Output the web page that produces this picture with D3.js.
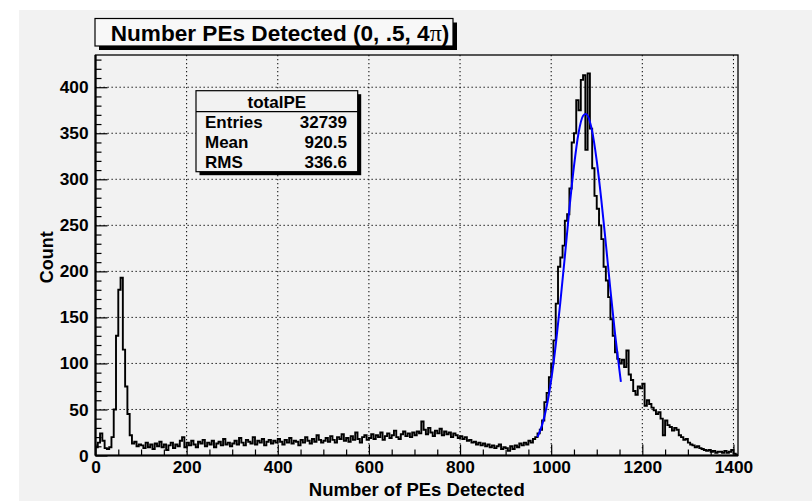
<!DOCTYPE html>
<html><head><meta charset="utf-8">
<script src="https://cdn.jsdelivr.net/npm/d3@7"></script>
<style>body{margin:0;background:#fff;} svg{display:block;}</style>
</head><body>
<svg id="c" width="812" height="501"></svg>
<script>
// ---------- data ----------
const titleText = "Number PEs Detected (0, .5, 4";
const titleSymbol = "π";
const xTitle = "Number of PEs Detected";
const yTitle = "Count";
const binStart = 0, binWidth = 5;
const counts = [
  9, 14, 24, 16, 8, 7, 9, 20, 50, 130, 180, 193, 115, 75, 45, 22, 13, 15, 10, 12,
  11, 8, 14, 9, 12, 7, 13, 10, 15, 9, 12, 6, 11, 14, 8, 12, 10, 16, 20, 9,
  14, 11, 16, 12, 9, 15, 13, 17, 10, 14, 12, 16, 9, 13, 15, 11, 18, 12, 14, 10,
  13, 16, 12, 19, 14, 11, 17, 15, 13, 20, 12, 16, 14, 18, 11, 15, 17, 13, 16, 14,
  18, 15, 12, 17, 14, 19, 13, 16, 15, 11, 17, 14, 20, 16, 13, 18, 15, 22, 17, 14,
  16, 19, 15, 21, 17, 14, 20, 18, 23, 16, 19, 15, 21, 17, 25, 18, 14, 20, 22, 17,
  19, 23, 18, 22, 20, 25, 17, 21, 24, 19, 22, 27, 20, 18, 23, 26, 21, 24, 20, 25,
  22, 26, 24, 37, 28, 23, 30, 25, 21, 27, 24, 29, 22, 26, 23, 25, 20, 24, 22, 19,
  21, 18, 20, 16, 17, 14, 15, 12, 14, 11, 13, 10, 12, 9, 11, 8, 10, 12, 7, 9,
  8, 5, 10, 7, 11, 9, 13, 11, 14, 12, 16, 14, 18, 20, 24, 28, 38, 58, 68, 85,
  100, 125, 165, 205, 215, 228, 255, 262, 290, 340, 350, 386, 375, 408, 413, 332, 415, 355, 312, 282,
  268, 250, 235, 205, 190, 172, 148, 130, 112, 105, 100, 104, 96, 114, 88, 82, 70, 66, 75, 73,
  78, 54, 60, 56, 52, 49, 45, 47, 40, 22, 38, 33, 31, 27, 30, 28, 22, 20, 17, 18,
  14, 12, 11, 9, 10, 8, 7, 6, 5, 6, 4, 5, 3, 4, 4, 3, 5, 3, 4, 6,
  2, 1
];
const fitX = [970, 980, 990, 1000, 1010, 1020, 1030, 1040, 1050, 1060, 1070, 1076, 1080, 1090, 1100, 1110, 1120, 1130, 1140, 1150, 1153];
const fitY = [20, 33, 53, 82, 120, 166, 216, 268, 314, 350, 369, 371, 369, 352, 320, 278, 230, 180, 133, 92, 80];
const xTickValues = [0, 200, 400, 600, 800, 1000, 1200, 1400];
const yTickValues = [0, 50, 100, 150, 200, 250, 300, 350, 400];
const statTitle = "totalPE";
const statNames = ["Entries", "Mean", "RMS"];
const statValues = ["32739", "920.5", "336.6"];

// ---------- layout ----------
const FONT = "'Liberation Sans', Arial, Helvetica, sans-serif";
const svg = d3.select("#c");
const frame = {l: 95.5, r: 738, t: 55, b: 455.5};
const x = d3.scaleLinear().domain([0, 1410]).range([frame.l, frame.r]);
const y = d3.scaleLinear().domain([0, 435]).range([frame.b, frame.t]);

// canvas
svg.append("rect").attr("x", 0).attr("y", 0).attr("width", 812).attr("height", 501).attr("fill", "#ffffff");
svg.append("rect").attr("x", 19).attr("y", 10).attr("width", 793).attr("height", 491).attr("fill", "#f2f2f2");

// grid
const grid = svg.append("g").attr("stroke", "#000").attr("stroke-width", 1).attr("stroke-dasharray", "1.3,2.7");
grid.selectAll("line.gx").data(xTickValues.filter(d => d > 0)).join("line")
  .attr("x1", d => x(d)).attr("x2", d => x(d)).attr("y1", frame.t).attr("y2", frame.b);
grid.selectAll("line.gy").data(yTickValues.filter(d => d > 0)).join("line")
  .attr("class", "gy")
  .attr("x1", frame.l).attr("x2", frame.r).attr("y1", d => y(d)).attr("y2", d => y(d));

// histogram
const pts = counts.map((c, i) => [binStart + i * binWidth, c]);
pts.push([binStart + counts.length * binWidth, counts[counts.length - 1]]);
svg.append("path")
  .attr("d", d3.line().x(d => x(d[0])).y(d => y(d[1])).curve(d3.curveStepAfter)(pts))
  .attr("fill", "none").attr("stroke", "#000").attr("stroke-width", 1.9).attr("stroke-linejoin", "miter");

// fit
svg.append("path")
  .attr("d", d3.line().x((d, i) => x(fitX[i])).y((d, i) => y(fitY[i])).curve(d3.curveMonotoneX)(fitX))
  .attr("fill", "none").attr("stroke", "#0000ff").attr("stroke-width", 2);

// axes
const xAxis = svg.append("g").attr("transform", `translate(0,${frame.b})`)
  .call(d3.axisBottom(x).tickValues(xTickValues).tickSize(-11).tickPadding(5).tickFormat(d3.format("d")));
const xMinor = svg.append("g").attr("transform", `translate(0,${frame.b})`)
  .call(d3.axisBottom(x).tickValues(d3.range(0, 1411, 50).filter(d => d % 200 !== 0)).tickSize(-6).tickFormat(""));
const yAxis = svg.append("g").attr("transform", `translate(${frame.l},0)`)
  .call(d3.axisLeft(y).tickValues(yTickValues).tickSize(-12).tickPadding(7).tickFormat(d3.format("d")));
const yMinor = svg.append("g").attr("transform", `translate(${frame.l},0)`)
  .call(d3.axisLeft(y).tickValues(d3.range(0, 431, 10).filter(d => d % 50 !== 0)).tickSize(-6).tickFormat(""));
[xAxis, xMinor, yAxis, yMinor].forEach(g => {
  g.select(".domain").remove();
  g.selectAll(".tick line").attr("stroke", "#000").attr("stroke-width", 1.2);
  g.selectAll("text").attr("font-family", FONT).attr("font-weight", "bold").attr("font-size", 17.3).attr("fill", "#000");
});

// frame
svg.append("rect").attr("x", frame.l).attr("y", frame.t).attr("width", frame.r - frame.l).attr("height", frame.b - frame.t)
  .attr("fill", "none").attr("stroke", "#000").attr("stroke-width", 1.3);
svg.append("line").attr("x1", frame.l).attr("x2", frame.r).attr("y1", frame.b).attr("y2", frame.b).attr("stroke", "#000").attr("stroke-width", 2.2);
svg.append("line").attr("x1", frame.l).attr("x2", frame.l).attr("y1", frame.t).attr("y2", frame.b).attr("stroke", "#000").attr("stroke-width", 2.2);

// axis titles
svg.append("text").attr("x", (frame.l + frame.r) / 2).attr("y", 496).attr("text-anchor", "middle")
  .attr("font-family", FONT).attr("font-weight", "bold").attr("font-size", 18.5).text(xTitle);
svg.append("text").attr("transform", `translate(53,${(frame.t + frame.b) / 2 + 2}) rotate(-90)`).attr("text-anchor", "middle")
  .attr("font-family", FONT).attr("font-weight", "bold").attr("font-size", 18).text(yTitle);

// title box
svg.append("rect").attr("x", 99).attr("y", 22.5).attr("width", 358).attr("height", 27.5).attr("fill", "#000");
svg.append("rect").attr("x", 95).attr("y", 18.5).attr("width", 358).attr("height", 27.5).attr("fill", "#f8f8f8").attr("stroke", "#000").attr("stroke-width", 1.2);
const tt = svg.append("text").attr("x", 280).attr("y", 40.5).attr("text-anchor", "middle")
  .attr("font-family", FONT).attr("font-weight", "bold").attr("font-size", 22.6);
tt.append("tspan").text(titleText);
tt.append("tspan").attr("font-family", "'Liberation Serif', 'DejaVu Serif', serif").attr("font-weight", "normal").attr("font-size", 24).text(titleSymbol);
tt.append("tspan").text(")");

// stats box
const sb = {x: 196, y: 90.7, w: 161.7, h: 81};
svg.append("rect").attr("x", sb.x + 3.5).attr("y", sb.y + 3.5).attr("width", sb.w).attr("height", sb.h).attr("fill", "#000");
svg.append("rect").attr("x", sb.x).attr("y", sb.y).attr("width", sb.w).attr("height", sb.h).attr("fill", "#f2f2f2").attr("stroke", "#000").attr("stroke-width", 1.2);
svg.append("line").attr("x1", sb.x).attr("x2", sb.x + sb.w).attr("y1", 111.7).attr("y2", 111.7).attr("stroke", "#000").attr("stroke-width", 1.2);
svg.append("text").attr("x", sb.x + sb.w / 2).attr("y", 108).attr("text-anchor", "middle")
  .attr("font-family", FONT).attr("font-weight", "bold").attr("font-size", 17).text(statTitle);
const rowY = [128, 148, 167.5];
statNames.forEach((n, i) => {
  svg.append("text").attr("x", 205).attr("y", rowY[i]).attr("font-family", FONT).attr("font-weight", "bold").attr("font-size", 17).text(n);
  svg.append("text").attr("x", 347).attr("y", rowY[i]).attr("text-anchor", "end").attr("font-family", FONT).attr("font-weight", "bold").attr("font-size", 17).text(statValues[i]);
});
</script>
</body></html>
